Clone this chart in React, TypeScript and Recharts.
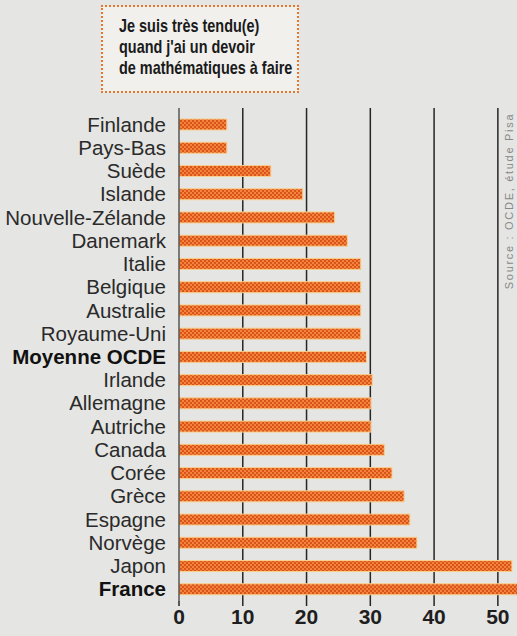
import React from "react";
import { BarChart, Bar, XAxis, YAxis, CartesianGrid } from "recharts";

const countries = [
  "Finlande", "Pays-Bas", "Suède", "Islande", "Nouvelle-Zélande", "Danemark", "Italie",
  "Belgique", "Australie", "Royaume-Uni", "Moyenne OCDE", "Irlande", "Allemagne", "Autriche",
  "Canada", "Corée", "Grèce", "Espagne", "Norvège", "Japon", "France",
];
const percent = [
  7.5, 7.5, 14.4, 19.4, 24.4, 26.4, 28.5, 28.5, 28.5, 28.5, 29.4, 30.3, 30.1, 30.1,
  32.2, 33.4, 35.3, 36.2, 37.3, 52.2, 54,
];
const xTicks = [0, 10, 20, 30, 40, 50];
const boldRows = ["Moyenne OCDE", "France"];
const titleLines = ["Je suis très tendu(e)", "quand j'ai un devoir", "de mathématiques à faire"];
const source = "Source : OCDE, étude Pisa";

const data = countries.map((name, i) => ({ name, value: percent[i] }));

const CountryTick = (props: any) => {
  const { x, y, payload } = props;
  const bold = boldRows.includes(payload.value);
  return (
    <text
      x={x}
      y={y}
      dy={7}
      textAnchor="end"
      fontSize={20.5}
      fontWeight={bold ? 700 : 400}
      fill={bold ? "#111" : "#2a2a2a"}
      fontFamily="Liberation Sans, Arial, sans-serif"
    >
      {payload.value}
    </text>
  );
};

export default function App() {
  return (
    <div
      style={{
        position: "fixed",
        left: 0,
        top: 0,
        width: 517,
        height: 636,
        background: "#e5e5e3",
        overflow: "hidden",
        fontFamily: "Liberation Sans, Arial, sans-serif",
      }}
    >
      <div
        style={{
          position: "absolute",
          left: 101,
          top: 5,
          width: 194,
          height: 84,
          border: "2px dotted #e8742a",
          background: "#f1f0ed",
        }}
      >
        <div
          style={{
            position: "absolute",
            left: 16,
            top: 8,
            fontSize: 19,
            fontWeight: 700,
            lineHeight: "21px",
            color: "#1a1a1a",
            whiteSpace: "nowrap",
            transform: "scaleX(0.76)",
            transformOrigin: "left top",
          }}
        >
          {titleLines.map((l) => (
            <div key={l}>{l}</div>
          ))}
        </div>
      </div>
      <div
        style={{
          position: "absolute",
          left: 509,
          top: 201,
          transform: "translate(-50%, -50%) rotate(-90deg)",
          fontSize: 11,
          letterSpacing: 1.7,
          color: "#888",
          whiteSpace: "nowrap",
        }}
      >
        {source}
      </div>
      <div style={{ position: "absolute", left: 0, top: 0 }}>
        <BarChart
          width={517}
          height={636}
          data={data}
          layout="vertical"
          margin={{ top: 108, right: 0, bottom: 5, left: 0 }}
          barCategoryGap={6}
        >
          <defs>
            <pattern id="checker" width="4" height="4" patternUnits="userSpaceOnUse">
              <rect width="4" height="4" fill="#f3843a" />
              <rect x="0" y="0" width="2" height="2" fill="#d9541c" />
              <rect x="2" y="2" width="2" height="2" fill="#d9541c" />
            </pattern>
          </defs>
          <CartesianGrid
            horizontal={false}
            vertical
            stroke="#262626"
            strokeWidth={1.5}
            verticalValues={[10, 20, 30, 40, 50]}
          />
          <XAxis
            type="number"
            domain={[0, 53]}
            allowDataOverflow
            ticks={xTicks}
            axisLine={false}
            tickLine={{ stroke: "#262626", strokeWidth: 1.5 }}
            tickSize={5}
            height={30}
            interval={0}
            tick={{ fontSize: 21, fontWeight: 700, fill: "#1e1e1e" }}
            tickMargin={3}
          />
          <YAxis
            type="category"
            dataKey="name"
            width={179}
            padding={{ top: 5, bottom: 0 }}
            axisLine={{ stroke: "#333", strokeWidth: 1.2 }}
            tickLine={false}
            tickSize={0}
            tickMargin={13}
            interval={0}
            tick={<CountryTick />}
          />
          <Bar
            dataKey="value"
            fill="url(#checker)"
            stroke="#f7cf8e"
            strokeWidth={1}
            barSize={11}
            isAnimationActive={false}
          />
        </BarChart>
      </div>
    </div>
  );
}
